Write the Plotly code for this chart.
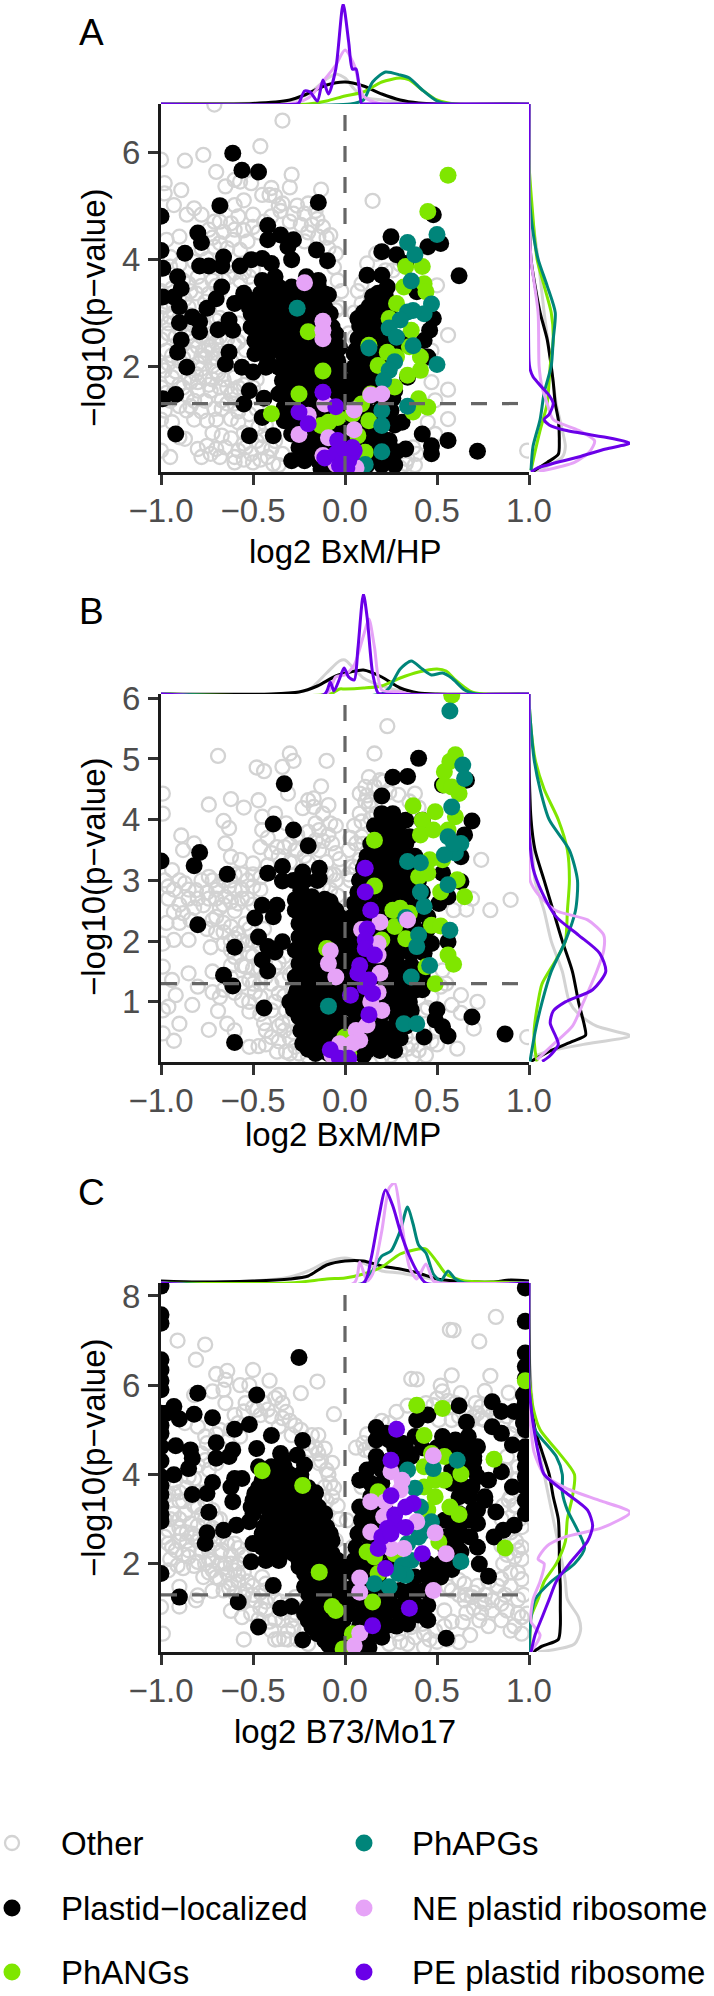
"""Volcano plots with marginal densities, three panels and a shared legend."""

import plotly.graph_objects as go

W, H = 714, 1996
FONT = "Liberation Sans"
GREY, BLACK, GREEN, TEAL, PINK, PURPLE = "#D3D3D3", "#000000", "#7FE600", "#00857A", "#E6A3F7", "#6A00E8"

NAMES = ["Other", "Plastid−localized", "PhANGs", "PhAPGs", "NE plastid ribosome", "PE plastid ribosome"]
X_TICKS = [-1.0, -0.5, 0.0, 0.5, 1.0]
A_Y_TICKS = [2, 4, 6]
B_Y_TICKS = [1, 2, 3, 4, 5, 6]
C_Y_TICKS = [2, 4, 6, 8]
P_CUTOFF = 1.3

# ── Panel A points (log2 ratio, -log10 p) ──
A_OTHER = [(-.71,6.89),(-.34,6.59),(-.46,6.11),(-.77,5.95),(-.87,5.84),(-1,5.86),(-.7,5.63),(-.29,5.58),(-.6,5.48),(-.51,5.42),
 (-.65,5.36),(-.57,5.45),(-.89,5.29),(-.13,5.3),(-.98,5.42),(-.4,5.33),(-.3,5.34),(-.38,5.18),(-.34,5.04),(-.41,5.2),
 (-.2,5.04),(-.98,5.23),(-.93,5.01),(-.82,4.95),(-.6,5.01),(-.86,4.83),(-.78,4.83),(-.71,4.7),(-.5,4.83),(-.62,4.67),
 (-.55,4.54),(-.66,4.51),(-.9,4.42),(-.24,4.64),(-.18,4.64),(-.145,4.42),(-.08,4.45),(-.61,4.36),(-.53,4.33),(-.22,4.33),
 (-.71,4.23),(-.97,4.36),(-.57,4.17),(-.95,4.04),(-.85,3.54),(-.8,3.67),(-.72,3.6),(-.97,3.6),(-.81,3.36),(-.95,2.92),
 (-.96,2.61),(-.97,2.29),(-.85,2.61),(-.98,3.11),(-.8,2.36),(-.72,2.61),(-.76,2.17),(-.68,2.29),(-.82,2.48),(-.74,2.36),
 (-.6,1.79),(-.69,1.86),(-.98,1.92),(-.94,1.79),(-.85,1.79),(-.76,1.79),(-.64,1.6),(-.8,1.54),(-.73,1.54),(-.67,1.36),
 (-.62,1.48),(-.86,1.17),(-.98,1.17),(-.75,.98),(-.67,1.2),(-.62,1.01),(-.87,.64),(-.9,.67),(-.67,.7),(-.75,.51),
 (-.73,.36),(-.65,.48),(-.58,.42),(-1,.42),(-.51,.36),(-.45,.48),(-.39,.17),(-.54,.48),(-.47,.86),(-.34,.36),
 (-.05,3.04),(-.03,3.1),(-.57,3.6),(-.52,3.67),(-.63,3.67),(-.64,3.86),(-.95,3.86),(-.9,3.3),(-.76,3.2),(-.68,3.4),
 (-.9,2.9),(-.78,2.9),(-.68,2.9),(-.9,2.1),(-.8,2.05),(-.72,2.0),(-.66,2.1),(-.9,2.3),(-.6,2.4),(-.7,2.45),
 (-.93,1.5),(-.86,1.45),(-.6,1.3),(-.52,1.1),(-.43,.9),(-.38,.6),(.15,5.09),(.12,3.92),(.17,4.1),(.09,3.54),(.5,3.51),
 (.09,3.17),(.56,2.58),(.47,1.7),(.56,1.56),(.49,1.36),(.56,1.01),(.45,.95),(.49,.73),(.99,.42),(.39,.36),(.34,.26),
 (.37,.48),(.33,.17),(.02,2.61),(.01,2.04),(.47,2.29),(.05,2.54),(.24,.14),(.16,.14),(.22,3.79),(.26,3.79),
 (-1,3.4),(-1,2.9),(-1,2.5),(-1,2.0),(-1,1.6),(-1,1.0),(-.94,3.45),(-.88,3.6),(-.9,3.9),(-.82,3.95),(-.75,4.0),(-.68,4.3),
 (-.74,4.55),(-.68,4.7),(-.58,4.8),(-.55,5.1),(-.45,5.2),(-.47,4.5),(-.4,4.8),(-.35,4.9),(-.3,4.7),(-.26,5.0),(-.22,4.85),
 (-.15,4.75),(-.12,4.6),(-.09,4.2),(-.05,4.1),(-.04,3.6),(-.02,3.4),(-.93,3.0),(-.85,3.1),(-.82,2.75),(-.76,2.75),(-.92,2.55),
 (-.88,2.4),(-.78,2.2),(-.72,2.3),(-.7,2.15),(-.64,2.5),(-.94,2.2),(-.85,2.0),(-.92,1.9),(-.81,1.85),(-.72,1.75),(-.66,1.75),
 (-.58,1.6),(-.55,1.65),(-.9,1.65),(-.97,1.5),(-.82,1.35),(-.76,1.35),(-.71,1.2),(-.9,1.25),(-.94,.95),(-.82,1.0),(-.7,1.0),
 (-.58,.95),(-.55,.75),(-.8,.45),(-.78,.3),(-.68,.3),(-.6,.3),(-.55,.25),(-.46,.25),(-.42,.3),(-.36,.15),(-.48,.6),(-.95,.3),
 (.1,.1),(.3,.1),(.38,.15),(.07,3.4),(.05,3.0),(.03,2.2),(.3,3.9),(.14,3.3),
 (-.97,3.2),(-.93,3.15),(-.87,3.25),(-.84,3.4),(-.78,3.5),(-.74,3.35),(-.7,3.5),(-.66,3.6),(-.6,3.75),(-.55,3.75),(-.5,3.8),
 (-.84,2.95),(-.74,3.05),(-.7,2.85),(-.66,2.75),(-.58,2.8),(-.55,2.55),(-.96,2.8),(-.9,2.7),(-.86,2.8),(-.78,2.55),(-.74,2.5),
 (-.68,2.55),(-.58,2.45),(-.54,2.3),(-.96,2.05),(-.88,2.15),(-.84,2.25),(-.76,2.3),(-.72,2.15),(-.62,2.1),(-.7,1.9),(-.78,1.95),
 (-.84,1.7),(-.8,1.7),(-.74,1.65),(-.68,1.6),(-.6,1.55),(-.5,1.6),(-.48,1.75),(-.88,1.6),(-.95,1.35),(-.84,1.25),(-.78,1.15),
 (-.64,1.3),(-.58,1.15),(-.48,1.2),(-.72,.75),(-.62,.65),(-.55,.55),(-.7,.45),(-.6,.2),(-.5,.2),(-.44,.7),(-.4,.45),(-.78,4.2),
 (-.72,4.4),(-.64,4.2),(-.6,4.55),(-.5,4.6),(-.44,4.7),(-.36,5.0),(-.28,4.85),(-.2,4.5),(-.16,4.9),(-.1,4.4),(-.06,3.85)]
A_PLASTID = [(-.61,5.98),(-.56,5.66),(-.47,5.63),(-.68,5.0),(-.145,5.06),(-1,4.8),(-.42,4.63),(-.8,4.49),(-.78,4.31),(-.42,4.36),
 (-.35,4.45),(-.28,4.36),(-.31,4.23),(-1,4.16),(-.87,4.11),(-.155,4.17),(-.095,3.97),(-.66,4.04),(-.79,3.87),(-.74,3.87),
 (-.67,3.87),(-.57,3.87),(-.51,3.99),(-.45,4.01),(-.4,3.92),(-.29,3.99),(-.99,3.83),(-.91,3.67),(-.45,3.6),(-.38,3.67),
 (-.21,3.67),(-.145,3.6),(-.89,3.45),(-.67,3.48),(-.99,3.29),(-.93,3.29),(-.7,3.26),(-.9,3.11),(-.55,3.36),(-.6,3.17),
 (-.75,3.08),(-.09,3.33),(-.83,2.92),(-.9,2.81),(-.79,2.83),(-.79,2.64),(-.69,2.68),(-.61,2.67),(-.63,2.86),(-.89,2.49),
 (-.91,2.26),(-.86,1.98),(-.63,2.26),(-.65,2.04),(-.56,1.98),(-.5,1.89),(-.52,1.54),(-.55,1.29),(-.44,1.4),(-.92,1.47),
 (-.99,1.39),(-.92,.73),(-.45,1.04),(-.52,.7),(-.39,.7),(-.29,.23),
 (-.43,3.48),(-.36,3.48),(-.29,3.48),(-.22,3.48),(-.145,3.48),
 (-.56,3.23),(-.49,3.23),(-.42,3.23),(-.34,3.23),(-.27,3.23),(-.2,3.23),(-.13,3.23),
 (-.51,2.98),(-.43,2.98),(-.36,2.98),(-.29,2.98),(-.22,2.98),(-.145,2.98),(-.08,2.98),
 (-.51,2.73),(-.43,2.73),(-.36,2.73),(-.29,2.73),(-.22,2.73),(-.145,2.73),(-.07,2.73),
 (-.49,2.48),(-.42,2.48),(-.34,2.48),(-.27,2.48),(-.2,2.48),(-.13,2.48),(-.06,2.48),
 (-.49,2.23),(-.42,2.23),(-.34,2.23),(-.27,2.23),(-.2,2.23),(-.13,2.23),(-.05,2.23),
 (-.43,1.98),(-.36,1.98),(-.29,1.98),(-.22,1.98),(-.145,1.98),(-.07,1.98),(-.03,1.98),
 (-.34,1.73),(-.27,1.73),(-.2,1.73),(-.13,1.73),(-.05,1.73),
 (-.36,1.48),(-.29,1.48),(-.22,1.48),(-.145,1.48),(-.07,1.48),
 (-.33,1.23),(-.25,1.23),(-.18,1.23),(-.11,1.23),(-.04,1.23),
 (-.33,.98),(-.27,.98),(-.2,.98),(-.13,.98),(-.05,.98),
 (-.29,.73),(-.2,.73),(-.13,.73),(-.05,.73),(-.25,.48),(-.18,.48),(-.11,.48),(-.04,.48),
 (-.22,.23),(-.145,.23),(-.07,.23),(-.02,.23),(-.13,.08),(-.05,.08),
 (-.46,3.35),(-.39,3.35),(-.32,3.35),(-.25,3.35),(-.18,3.35),(-.11,3.35),
 (-.52,3.1),(-.46,3.1),(-.39,3.1),(-.32,3.1),(-.25,3.1),(-.18,3.1),(-.11,3.1),
 (-.47,2.85),(-.39,2.85),(-.32,2.85),(-.25,2.85),(-.18,2.85),(-.11,2.85),
 (-.47,2.6),(-.39,2.6),(-.32,2.6),(-.25,2.6),(-.18,2.6),(-.11,2.6),(-.05,2.6),
 (-.46,2.35),(-.38,2.35),(-.3,2.35),(-.23,2.35),(-.16,2.35),(-.09,2.35),(-.03,2.35),
 (-.42,2.1),(-.32,2.1),(-.25,2.1),(-.18,2.1),(-.11,2.1),(-.04,2.1),
 (-.32,1.85),(-.25,1.85),(-.18,1.85),(-.11,1.85),(-.03,1.85),
 (-.32,1.6),(-.25,1.6),(-.18,1.6),(-.11,1.6),(-.03,1.6),
 (-.32,1.35),(-.25,1.35),(-.18,1.35),(-.11,1.35),(-.03,1.35),
 (-.3,1.1),(-.23,1.1),(-.16,1.1),(-.09,1.1),(-.02,1.1),
 (-.25,.85),(-.18,.85),(-.11,.85),(-.03,.85),(-.22,.6),(-.15,.6),(-.07,.6),(-.02,.6),(-.2,.35),(-.12,.35),(-.05,.35),
 (.25,4.42),(.2,4.14),(.28,4.08),(.33,3.92),(.45,4.23),(.52,4.29),(.48,4.83),(.62,3.69),(.12,3.7),(.2,3.7),
 (.23,3.48),(.18,3.36),(.13,3.11),(.07,2.89),(.16,3.11),(.15,2.86),(.22,3.23),(.07,2.51),(.14,2.61),(.2,2.67),
 (.05,2.23),(.13,2.17),(.18,2.42),(.05,1.98),(.11,1.92),(.18,2.17),(.04,1.73),(.1,1.67),(.18,1.73),(.24,1.98),
 (.02,1.48),(.09,1.36),(.24,1.04),(.31,.95),(.18,.79),(.11,.73),(.24,.61),(.33,.45),(.16,.45),(.25,.26),
 (.13,.23),(.42,.73),(.47,.51),(.47,.36),(.56,.61),(.72,.41),(.46,2.67),(.48,2.89),(.43,2.48),(.45,2.17),
 (.39,3.39),(.34,2.48),(.27,1.54),(.34,1.79),(.25,1.17),(.05,.98),(.11,.36),(.05,.5),
 (.15,3.3),(.22,3.3),(.1,3.0),(.17,3.0),(.24,3.0),(.08,2.75),(.15,2.75),(.22,2.75),(.1,2.5),(.17,2.5),(.24,2.5),
 (.06,2.3),(.12,2.3),(.2,2.3),(.27,2.3),(.08,2.05),(.15,2.05),(.22,2.05),(.07,1.85),(.14,1.85),(.21,1.85),
 (.06,1.6),(.13,1.6),(.2,1.6),(.05,1.4),(.12,1.4),(.19,1.4),(.26,1.4),(.05,1.15),(.12,1.15),(.18,1.15),
 (.06,.9),(.13,.9),(.2,.9),(.27,.9),(.06,.65),(.13,.65),(.2,.65),(.07,.4),(.2,.4),(.28,.4),(.05,.15),(.12,.15),(.2,.15),(.27,.15)]
A_PHANG = [(.56,5.57),(.45,4.89),(.33,3.86),(.42,3.86),(.32,3.48),(.43,3.54),(.44,3.39),(.28,3.17),(.24,2.89),(.36,2.67),
 (.13,2.39),(.35,2.36),(.23,2.26),(.28,2.17),(.18,2.01),(.41,2.17),(.41,1.92),(.34,1.83),(.27,1.61),(.14,1.48),
 (.4,1.39),(.45,1.23),(.37,1.14),(.09,1.29),(.13,.98),(.07,.7),(.11,.39),(-.4,1.11),(-.25,1.48),(-.12,1.91),
 (-.2,2.64),(-.09,.95),(-.04,1.04),(-.13,.89),(.04,1.1)]
A_PHAPG = [(.5,4.46),(.34,4.31),(.38,4.08),(.36,3.59),(.47,3.16),(.43,2.98),(.37,3.04),(.34,3.01),(.3,2.86),(.24,2.71),
 (.28,2.54),(.37,2.38),(.13,2.34),(.5,2.03),(.27,2.08),(.24,1.92),(.21,1.73),(.34,1.25),(.2,1.17),(.2,.89),
 (.2,.4),(.11,.16),(-.26,3.08)]
A_NE = [(.14,1.46),(.2,1.48),(.05,1.18),(.05,.81),(.06,.1),(-.22,3.56),(-.12,2.84),(-.12,2.67),(-.12,2.51),(-.11,1.29),
 (-.25,.72),(-.2,1.08),(-.09,.66),(-.12,.33),(-.05,.17)]
A_PE = [(-.12,1.51),(-.25,1.14),(-.2,.92),(-.05,1.24),(-.11,.28),(-.04,.61),(-.05,.36),(-.03,.14),(.05,.42),(.04,.36),
 (.02,.23),(0,.42),(.04,.48),(.01,.1)]

# ── Panel B points ──
B_OTHER = [(-.69,5.05),(-.3,5.09),(-.28,4.97),(-.1,4.97),(-.48,4.86),(-.44,4.8),(-.34,4.87),(-.13,4.55),(-.99,4.43),(-.31,4.43),
 (-.62,4.34),(-.74,4.25),(-.55,4.2),(-.47,4.32),(-.99,4.1),(-.66,3.98),(-.63,3.86),(-.89,3.74),(-.45,3.83),(-.2,4.32),
 (-.17,4.35),(-.23,4.19),(-.17,4.21),(-.09,4.24),(-.38,4.1),(-.45,4.05),(-.32,3.94),(-.16,3.94),(-.08,3.94),(-.14,3.83),
 (-.82,3.61),(-.88,3.5),(-.65,3.61),(-.37,3.55),(-.05,3.45),(-.57,3.34),(-.62,3.39),(-.16,3.66),(-.07,3.61),(-.94,3.17),
 (-.74,3.06),(-.96,2.9),(-.87,2.95),(-.81,2.84),(-.85,2.7),(-.69,2.9),(-.62,3.0),(-.5,3.28),(-.53,3.0),(-.93,2.48),
 (-.88,2.46),(-.77,2.59),(-.65,2.73),(-.58,2.62),(-.72,2.35),(-.62,2.24),(-.54,2.29),(-.93,2.02),(-.85,2.02),(-.99,1.96),
 (-.73,1.9),(-.58,2.13),(-.6,1.74),(-.52,1.8),(-.54,1.58),(-.99,1.58),(-.94,1.36),(-.85,1.47),(-.8,1.25),(-.72,1.16),
 (-.68,1.08),(-.56,1.03),(-.49,1.16),(-.52,1.36),(-.92,1.11),(-.83,.95),(-.99,.86),(-.96,.92),(-.69,.85),(-.52,.84),
 (-.46,1.08),(-.36,1.14),(-.4,.86),(-.9,.64),(-.74,.54),(-.64,.64),(-.6,.53),(-.99,.48),(-.93,.36),(-.43,.53),
 (-.52,.26),(-.47,.27),(-.37,.18),(-.32,.18),(-.4,.42),(-.33,.53),(-.32,.86),(-.27,.26),(-.43,1.41),(-.38,1.58),
 (-.34,1.36),(-.27,3.5),(-.33,3.55),(-.6,2.5),(-.56,2.85),(-.5,2.6),(-.68,2.55),(-.7,2.7),(-.63,2.9),(-.46,1.9),
 (-.5,2.0),(-.44,2.2),(-.52,2.2),(-.3,3.3),(-.22,3.4),(-.1,3.3),(-.06,3.1),(.23,5.54),(.16,5.09),(.11,4.54),(.08,4.43),
 (.21,4.63),(.38,4.43),(.29,4.41),(.13,4.24),(.09,3.97),(.14,4.02),(.06,3.61),(.09,3.72),(.04,3.23),(.08,3.34),
 (.74,3.34),(.69,2.7),(.9,2.68),(.79,2.51),(.66,2.52),(.59,2.51),(.63,1.11),(.72,1.0),(.63,.82),(.7,.56),
 (.61,.23),(.44,.12),(.99,.42),(.34,.23),(.25,.12),(.29,.31),(.47,1.08),(.43,.86),(.33,.42),(.53,1.52),
 (-.98,3.0),(-.96,2.7),(-.97,2.3),(-.9,2.6),(-.82,2.55),(-.75,2.8),(-.72,3.0),(-.66,3.0),(-.6,3.1),(-.56,2.7),(-.5,2.9),
 (-.46,3.05),(-.7,2.15),(-.75,2.2),(-.66,2.3),(-.6,2.05),(-.56,2.0),(-.62,1.85),(-.66,1.95),(-.72,1.5),(-.62,1.4),(-.56,1.3),
 (-.5,1.55),(-.46,1.55),(-.4,1.3),(-.36,1.65),(-.33,1.1),(-.36,.6),(-.3,.7),(-.3,.4),(-.43,.3),(-.28,1.5),(-.46,3.55),(-.42,3.7),
 (-.36,3.4),(-.3,3.6),(-.26,3.75),(-.2,3.8),(-.12,3.65),(-.09,3.75),(-.03,3.35),(-.05,3.0),(-.04,2.75),(-.08,3.1),(-.12,2.9),
 (.05,3.9),(.03,3.7),(.1,3.6),(.02,3.1),(.03,2.6),(.12,4.4),(.16,4.55),(.19,4.65),(.13,4.7),(.11,4.3),(.24,4.45),(.35,4.3),
 (.4,4.2),(.45,.9),(.5,.3),(.4,.2),(.3,.2),(.2,.1),(.15,.2),(.37,.1),(-.2,.1),(-.25,.15),(-.3,.15),(.58,.95),(.52,1.25),(.55,1.3),
 (-.93,2.85),(-.9,3.0),(-.85,2.85),(-.8,2.7),(-.78,3.0),(-.74,2.7),(-.7,2.85),(-.66,2.6),(-.62,2.65),(-.6,2.85),(-.56,3.1),(-.5,3.1),
 (-.46,2.85),(-.53,2.7),(-.9,2.3),(-.84,2.35),(-.7,2.4),(-.66,2.15),(-.62,2.0),(-.58,1.9),(-.54,1.95),(-.5,1.75),(-.46,1.3),(-.5,1.3),
 (-.56,1.6),(-.62,1.6),(-.66,1.2),(-.6,1.15),(-.52,1.0),(-.46,.8),(-.38,1.0),(-.34,.65),(-.28,.85),(-.28,1.2),(-.3,1.45),(-.33,1.75),
 (-.44,.65),(-.36,.35),(-.28,.5),(-.42,3.25),(-.4,3.45),(-.28,3.3),(-.26,3.5),(-.2,3.3),(-.14,3.5),(-.1,3.1),(-.08,2.85),(-.18,3.55),
 (-.12,4.1),(-.05,3.9),(.02,3.5),(.08,4.1),(.14,4.3),(.17,4.1),(.03,3.0),(.06,3.2),(.5,.55),(.47,.35),(.36,.3),(.27,.25)]
B_PLASTID = [(-.33,4.59),(-.39,3.93),(-.28,3.83),(-.2,3.57),(-.79,3.46),(-.82,3.24),(-1,3.32),(-.64,3.1),(-.8,2.27),(-.34,3.23),
 (-.42,3.12),(-.34,2.99),(-.23,3.14),(-.14,3.2),(-.14,3.03),(-.24,2.84),(-.11,2.69),(-.45,2.59),(-.37,2.59),(-.27,2.68),
 (-.18,2.73),(-.49,2.38),(-.39,2.4),(-.47,2.07),(-.42,1.91),(-.34,1.99),(-.38,1.82),(-.45,1.69),(-.42,1.51),(-.6,1.9),
 (-.66,1.44),(-.61,1.26),(-.44,.9),(-.6,.33),
 (-.27,2.51),(-.2,2.51),(-.13,2.51),(-.05,2.51),(-.25,2.29),(-.18,2.29),(-.11,2.29),(-.05,2.29),
 (-.25,2.07),(-.18,2.07),(-.11,2.07),(-.04,2.07),(-.27,1.85),(-.2,1.85),(-.13,1.85),(-.05,1.85),
 (-.25,1.63),(-.18,1.63),(-.11,1.63),(-.04,1.63),(-.27,1.41),(-.2,1.41),(-.13,1.41),(-.05,1.41),
 (-.26,1.19),(-.19,1.19),(-.12,1.19),(-.05,1.19),(-.3,1.0),(-.23,1.0),(-.155,1.0),(-.08,1.0),(-.02,1.0),
 (-.25,.75),(-.18,.75),(-.11,.75),(-.04,.75),(-.24,.53),(-.16,.53),(-.09,.53),(-.03,.53),
 (-.23,.31),(-.155,.31),(-.08,.31),(-.02,.31),(-.16,.15),(-.09,.15),(-.04,.15),
 (-.23,2.4),(-.16,2.4),(-.09,2.4),(-.03,2.4),(-.22,2.18),(-.15,2.18),(-.08,2.18),(-.02,2.18),
 (-.24,1.96),(-.16,1.96),(-.09,1.96),(-.03,1.96),(-.22,1.74),(-.15,1.74),(-.08,1.74),(-.02,1.74),
 (-.24,1.52),(-.16,1.52),(-.09,1.52),(-.03,1.52),(-.22,1.3),(-.15,1.3),(-.08,1.3),(-.02,1.3),
 (-.27,1.1),(-.21,1.1),(-.14,1.1),(-.07,1.1),(-.28,.88),(-.21,.88),(-.14,.88),(-.07,.88),(-.01,.88),
 (-.22,.64),(-.15,.64),(-.07,.64),(-.01,.64),(-.2,.42),(-.12,.42),(-.05,.42),(-.2,.22),(-.12,.22),(-.06,.22),
 (-.22,3.0),(-.15,3.0),(-.28,3.0),(-.2,2.65),(-.15,2.65),(-.08,2.65),
 (.4,5.01),(.26,4.7),(.34,4.71),(.2,4.39),(.23,4.02),(.33,3.99),(.42,3.99),(.69,3.98),(.65,3.75),(.66,4.65),
 (.53,4.57),(.63,3.39),(.18,3.88),(.21,3.66),(.27,3.77),(.15,3.39),(.11,3.28),(.22,3.45),(.29,3.5),(.35,3.72),
 (.08,3.0),(.15,3.12),(.24,3.23),(.31,3.28),(.05,2.62),(.13,2.73),(.2,2.84),(.27,2.9),(.34,2.79),(.05,2.4),
 (.18,2.57),(.11,2.4),(.25,2.62),(.51,2.62),(.56,2.73),(.63,2.98),(.53,3.12),(.03,2.13),(.24,2.29),(.16,2.13),
 (.47,1.96),(.56,1.99),(.02,1.8),(.24,1.96),(.31,2.07),(.04,1.47),(.27,1.74),(.34,1.85),(.02,1.16),(.25,1.47),
 (.35,1.52),(.42,1.47),(.24,1.19),(.31,1.19),(.38,1.19),(.02,.92),(.07,.86),(.24,.92),(.31,.81),(.36,.86),
 (.24,.5),(.2,.34),(.14,.31),(.1,.12),(.43,.42),(.5,.87),(.49,.7),(.53,.59),(.56,.44),(.69,.75),
 (.87,.47),(.05,.42),(.12,1.0),(.18,1.3),(.12,1.6),(.2,2.0),(.2,2.4),(.28,2.4),(.3,1.5),
 (.2,4.1),(.26,4.1),(.16,3.9),(.22,3.9),(.29,3.9),(.14,3.6),(.2,3.6),(.27,3.6),(.33,3.6),(.12,3.4),(.19,3.4),(.26,3.4),(.32,3.4),(.38,3.4),
 (.1,3.2),(.17,3.2),(.24,3.2),(.31,3.2),(.38,3.2),(.08,3.0),(.12,3.0),(.19,3.0),(.26,3.0),(.33,3.0),(.4,3.0),
 (.07,2.8),(.14,2.8),(.21,2.8),(.28,2.8),(.35,2.8),(.42,2.8),(.07,2.6),(.14,2.6),(.21,2.6),(.28,2.6),(.35,2.6),(.42,2.6),
 (.04,2.4),(.1,2.4),(.17,2.4),(.24,2.4),(.31,2.4),(.38,2.4),(.45,2.4),(.04,2.2),(.1,2.2),(.17,2.2),(.24,2.2),(.31,2.2),(.38,2.2),(.45,2.2),
 (.02,2.0),(.08,2.0),(.15,2.0),(.22,2.0),(.29,2.0),(.36,2.0),(.43,2.0),(.02,1.8),(.08,1.8),(.15,1.8),(.22,1.8),(.29,1.8),(.36,1.8),(.43,1.8),
 (.02,1.6),(.08,1.6),(.15,1.6),(.22,1.6),(.29,1.6),(.36,1.6),(.01,1.4),(.08,1.4),(.15,1.4),(.22,1.4),(.29,1.4),(.36,1.4),(.42,1.4),
 (.08,1.2),(.15,1.2),(.22,1.2),(.29,1.2),(.36,1.2),(.42,1.2),(.07,1.0),(.14,1.0),(.21,1.0),(.28,1.0),(.35,1.0),
 (.06,.8),(.13,.8),(.2,.8),(.27,.8),(.34,.8),(.06,.6),(.13,.6),(.2,.6),(.27,.6),(.33,.6),(.09,.4),(.16,.4),(.23,.4),(.3,.4),(.05,.2),(.12,.2),(.19,.2),(.27,.2)]
B_PHANG = [(.58,6.05),(.6,5.07),(.54,4.79),(.57,4.96),(.54,4.57),(.62,4.43),(.58,4.54),(.37,4.23),(.49,4.13),(.42,3.99),
 (.6,4.05),(.41,3.75),(.48,3.83),(.56,3.83),(.16,3.66),(.46,3.34),(.53,3.34),(.4,3.06),(.45,3.12),(.61,3.01),
 (.16,2.91),(.52,2.81),(.65,2.73),(.26,2.51),(.3,2.54),(.35,2.46),(.27,2.24),(.33,2.04),(.47,2.26),(.52,2.25),
 (.2,2.02),(.56,1.77),(.59,1.62),(.44,1.58),(.49,1.3),(-.1,1.88),(.02,.15),(0,.42)]
B_PHAPG = [(.57,5.79),(.64,4.9),(.65,4.68),(.58,4.21),(.56,3.72),(.63,3.61),(.6,3.45),(.54,3.42),(.59,3.61),(.34,3.31),
 (.41,3.29),(.56,2.93),(.41,2.81),(.43,2.57),(.33,2.39),(.4,2.1),(.39,1.91),(.57,2.18),(.46,1.6),(.36,1.41),
 (.32,.64),(.39,.64),(-.09,.93)]
B_NE = [(.34,2.35),(.19,2.31),(.09,2.19),(.18,1.96),(.18,1.77),(.19,1.47),(.18,1.16),(.14,1.0),(.2,.86),(.12,.62),
 (.06,.53),(.08,.37),(-.08,1.84),(-.09,1.63),(-.05,1.41),(-.03,.31),(-.07,.12),(.04,.31)]
B_PE = [(.11,3.2),(.11,2.81),(.14,2.51),(.12,2.2),(.11,2.02),(.11,1.88),(.16,1.77),(.08,1.6),(.07,1.47),(.13,1.36),
 (.11,1.25),(.15,1.14),(.03,1.11),(.13,.79),(-.08,.21),(-.03,.07),(.02,.07)]

# ── Panel C points ──
C_OTHER = [(-.91,7.0),(-.76,6.91),(-.81,6.57),(-.5,6.34),(-.64,6.32),(-.7,6.25),(-.15,6.08),(-.41,6.1),(-.57,6.0),(-.65,6.12),
 (-.52,6.0),(-.24,5.82),(-.66,5.9),(-.72,5.86),(-.36,5.78),(-.34,5.6),(-.38,5.71),(-.82,5.78),(-.65,5.6),(-.06,5.35),
 (-.55,5.41),(-.6,5.33),(-.46,5.33),(-.34,5.26),(-.36,5.07),(-.8,5.07),(-.76,4.85),(-.87,5.15),(-.29,4.88),(-.18,4.88),
 (-.145,4.88),(-.19,4.55),(-.11,4.58),(-.145,4.47),(-.07,4.26),(-.11,3.72),(-.07,3.5),(-.12,3.5),(-.93,3.57),(-.78,4.47),
 (-.76,4.32),(-.96,3.57),(-.87,3.12),(-.93,3.12),(-.8,3.27),(-.96,2.75),(-.89,2.67),(-.83,2.67),(-.92,2.3),(-.94,2.37),
 (-.85,2.3),(-.8,2.04),(-.91,1.96),(-.85,2.15),(-.96,1.85),(-.72,2.07),(-.65,2.0),(-.67,2.3),(-.6,2.45),(-.71,2.45),
 (-.58,2.0),(-.64,1.78),(-.72,1.85),(-.62,1.55),(-.9,1.48),(-.72,1.39),(-.8,1.29),(-.81,1.18),(-.9,1.04),(-1,1.03),
 (-.99,.43),(-.62,.94),(-.56,.8),(-.55,.3),(-.51,.88),(-.49,1.18),(-.43,.95),(-.54,1.4),(-.36,.31),(-.33,.31),
 (-.4,.5),(-.31,.5),(-.34,.73),(-.27,1.25),(-.29,.73),(-.43,1.55),(-.18,.65),(-.05,2.52),(-.03,2.3),
 (-.9,3.0),(-.84,2.9),(-.76,3.0),(-.72,2.8),(-.8,2.5),(-.74,2.3),(-.68,2.0),(-.88,3.4),(-.95,3.0),(-.76,3.6),(-.82,3.9),
 (-.95,2.1),(-.98,2.6),(-.88,2.2),(-.7,1.7),(-.58,1.6),(-.5,1.5),(-.46,1.0),(-.41,.7),(-.66,1.4),
 (-.98,3.0),(-.98,3.5),(-.9,3.4),(-.86,3.7),(-.82,3.3),(-.76,3.4),(-.72,3.2),(-.68,3.0),(-.68,2.6),(-.73,2.6),(-.86,2.5),
 (-.96,2.45),(-.9,2.5),(-.8,2.85),(-.76,2.6),(-.62,2.2),(-.56,2.2),(-.55,1.8),(-.62,2.0),(-.68,1.65),(-.77,1.7),(-.6,1.35),
 (-.56,1.15),(-.46,1.35),(-.43,1.15),(-.38,1.2),(-.4,1.45),(-.33,.9),(-.28,.55),(-.26,.3),(-.2,.2),(-.22,.5),(-.38,.3),
 (-.7,4.9),(-.68,4.6),(-.62,5.0),(-.57,4.85),(-.5,5.5),(-.44,5.6),(-.4,5.3),(-.27,5.1),(-.24,5.0),(-.16,4.6),(-.13,4.3),
 (-.09,4.0),(-.06,3.7),(-.04,3.3),(-.03,3.0),(-.1,3.4),
 (-.99,3.8),(-.93,3.8),(-.9,3.6),(-.84,3.5),(-.8,3.6),(-.78,3.1),(-.7,3.0),(-.9,2.8),(-.86,2.7),(-.82,2.6),(-.78,2.3),(-.74,2.1),
 (-.68,2.25),(-.64,2.45),(-.58,2.35),(-.54,2.15),(-.88,1.9),(-.82,1.95),(-.76,2.0),(-.74,1.8),(-.6,1.85),(-.66,1.9),(-.58,1.75),
 (-.53,1.6),(-.45,1.7),(-.63,1.45),(-.55,1.25),(-.5,1.3),(-.47,.75),(-.38,.75),(-.35,1.15),(-.31,1.1),(-.27,.9),(-.31,.3),(-.85,3.95),
 (-.8,4.2),(-.74,4.1),(-.7,4.25),(-.75,4.7),(-.68,5.0),(-.58,5.15),(-.54,5.6),(-.48,5.45),(-.42,5.45),(-.32,5.4),(-.3,5.2),(-.2,4.7),
 (-.14,4.25),(-.1,4.1),(-.08,3.8),
 (.82,7.53),(.57,7.24),(.59,7.23),(.73,6.98),(.36,6.14),(.39,6.13),(.58,6.22),(.79,6.21),(.52,5.99),(.53,5.86),
 (.63,5.82),(.76,5.87),(.89,5.83),(.34,5.54),(.71,5.6),(.74,5.52),(.72,5.37),(.24,5.15),(.11,4.55),(.14,4.51),
 (.82,5.3),(.51,5.22),(.76,5.22),(.58,5.22),(.95,4.77),(.94,4.17),(.89,3.42),(.96,2.82),(.96,2.37),(.92,2.15),
 (.85,1.66),(.62,1.63),(.56,1.48),(.65,1.55),(.69,1.25),(.8,1.18),(.85,1.1),(.54,.95),(.58,1.4),(.64,.69),
 (.73,.73),(.85,.73),(.96,.8),(.96,.43),(.62,.24),(.43,.43),(.49,.5),(.36,.58),(.29,.43),(.24,.2),
 (.43,.13),(.65,1.18),(.76,1.1),(.01,2.97),(.04,2.37),(.09,3.72),(.94,.88),(.99,.88),
 (.15,4.7),(.12,4.9),(.6,5.6),(.56,5.5),(.5,5.7),(.44,5.6),(.7,5.3),(.66,5.4),(.78,5.45),(.88,5.3),(.93,5.1),(.94,4.7),
 (.88,4.4),(.9,3.5),(.86,3.3),(.93,3.3),(.9,2.7),(.85,2.4),(.93,2.5),(.96,2.1),(.94,1.8),(.9,1.5),(.78,1.6),(.72,1.5),
 (.66,1.3),(.74,1.15),(.8,.95),(.7,1.0),(.58,.7),(.5,.25),(.42,.65),(.3,.25),(.34,.2),(.27,.6),(.54,.6),(.9,.5),(.97,1.3),(.96,1.65),
 (.28,5.4),(.2,5.2),(.1,4.7),(.06,4.6),(.48,5.55),(.56,5.65),(.62,5.3),(.68,5.2),(.74,5.25),(.82,5.5),(.86,5.2),(.9,4.9),(.87,4.1),
 (.94,3.9),(.92,3.3),(.85,3.0),(.95,3.0),(.88,2.2),(.94,2.3),(.86,2.0),(.9,1.8),(.83,1.5),(.87,1.3),(.94,1.2),(.62,1.3),(.7,1.35),
 (.76,1.3),(.66,.9),(.74,.9),(.88,.95),(.78,.6),(.68,.4),(.56,.3),(.46,.3),(.38,.35),(.92,.6)]
C_PLASTID = [(-.25,6.62),(-1,8.22),(-1,7.58),(-1,7.39),(-1,6.57),(-1,6.34),(-1,6.1),(-1,5.9),(-.8,5.82),(-.48,5.78),
 (-.93,5.52),(-.82,5.35),(-.9,5.24),(-.97,5.37),(-.72,5.27),(-.52,5.12),(-.6,5.01),(-1,5.37),(-1,5.1),(-1,4.92),
 (-.4,4.87),(-.23,4.76),(-.7,4.71),(-.92,4.64),(-1,4.62),(-.84,4.55),(-.83,4.36),(-.85,4.13),(-.93,3.99),(-1,4.3),
 (-1,3.95),(-1,3.75),(-1,3.55),(-1,3.3),(-1,3.1),(-1,2.95),(-.61,4.55),(-.48,4.58),(-.35,4.47),(-.26,4.43),
 (-.7,4.36),(-.63,4.4),(-.34,4.32),(-.22,4.21),(-.6,3.91),(-.72,3.82),(-.83,3.55),(-.75,3.57),(-.62,3.72),(-.56,3.91),
 (-.16,3.59),(-.74,3.15),(-.61,3.39),(-.66,2.75),(-.59,2.86),(-.75,2.69),(-.76,2.45),(-.52,2.94),(-.5,2.45),(-.51,2.04),
 (-.39,1.51),(-.43,2.07),(-1,1.78),(-.9,1.25),(-.58,1.14),(-.47,.58),(-.23,.29),(-.35,1.0),(-.29,1.04),
 (-.47,4.17),(-.4,4.17),(-.33,4.17),(-.45,3.87),(-.38,3.87),(-.31,3.87),(-.24,3.87),
 (-.49,3.57),(-.42,3.57),(-.34,3.57),(-.27,3.57),(-.22,3.57),
 (-.51,3.27),(-.43,3.27),(-.36,3.27),(-.29,3.27),(-.22,3.27),(-.145,3.27),
 (-.42,2.97),(-.34,2.97),(-.27,2.97),(-.2,2.97),(-.13,2.97),
 (-.45,2.67),(-.38,2.67),(-.31,2.67),(-.24,2.67),(-.16,2.67),(-.08,2.67),
 (-.45,2.37),(-.38,2.37),(-.31,2.37),(-.24,2.37),(-.16,2.37),(-.09,2.37),
 (-.36,2.07),(-.25,2.07),(-.18,2.07),(-.11,2.07),(-.04,2.07),
 (-.22,1.78),(-.145,1.78),(-.07,1.78),(-.02,1.78),(-.22,1.48),(-.145,1.48),(-.07,1.48),(-.02,1.48),
 (-.18,1.18),(-.11,1.18),(-.04,1.18),(-.22,.88),(-.145,.88),(-.07,.88),(-.02,.88),
 (-.18,.58),(-.11,.58),(-.04,.58),(-.11,.28),(-.04,.28),(-.07,.09),(-.02,.09),
 (-.44,4.0),(-.37,4.0),(-.3,4.0),(-.24,4.0),(-.47,3.7),(-.4,3.7),(-.33,3.7),(-.26,3.7),(-.2,3.7),
 (-.5,3.42),(-.45,3.42),(-.38,3.42),(-.31,3.42),(-.24,3.42),(-.17,3.42),(-.5,3.12),(-.39,3.12),(-.32,3.12),(-.25,3.12),(-.18,3.12),(-.11,3.12),
 (-.44,2.82),(-.38,2.82),(-.31,2.82),(-.24,2.82),(-.17,2.82),(-.1,2.82),(-.42,2.52),(-.35,2.52),(-.28,2.52),(-.21,2.52),(-.14,2.52),(-.07,2.52),
 (-.42,2.22),(-.35,2.22),(-.28,2.22),(-.21,2.22),(-.14,2.22),(-.07,2.22),(-.25,1.93),(-.19,1.93),(-.11,1.93),(-.05,1.93),(0,1.93),
 (-.2,1.63),(-.11,1.63),(-.04,1.63),(-.2,1.33),(-.13,1.33),(-.06,1.33),(-.01,1.33),(-.2,1.03),(-.13,1.03),(-.05,1.03),
 (-.2,.73),(-.13,.73),(-.06,.73),(-.01,.73),(-.15,.43),(-.08,.43),(-.02,.43),(-.09,.18),(-.04,.18),
 (.62,5.54),(.45,5.33),(.39,5.22),(.66,5.17),(.8,5.63),(.85,5.41),(.92,5.41),(.97,5.78),(.98,7.43),(.98,8.18),
 (.98,6.72),(.98,6.42),(.98,5.82),(.17,5.05),(.17,4.77),(.24,4.77),(.31,4.7),(.38,4.85),(.53,4.85),(.6,4.77),
 (.67,4.85),(.72,4.62),(.8,5.07),(.85,4.92),(.91,4.66),(.97,5.15),(.98,4.62),(.98,4.17),(.98,3.72),(.98,3.42),
 (.98,3.12),(.17,4.22),(.08,3.87),(.14,3.8),(.7,4.32),(.72,3.95),(.66,4.17),(.69,3.72),(.78,3.87),(.85,4.06),
 (.91,3.72),(.65,3.72),(.76,3.42),(.72,3.2),(.82,3.16),(.62,3.12),(.67,2.97),(.92,2.86),(.86,2.75),(.81,2.6),
 (.08,3.27),(.09,2.97),(.07,2.67),(.06,2.37),(.05,2.07),(.05,1.78),(.05,1.48),(.03,1.18),(.03,.88),(.09,.58),
 (.18,.58),(.72,2.37),(.73,1.99),(.78,1.72),(.63,2.26),(.58,1.87),(.52,1.85),(.45,1.78),(.34,.65),(.45,.73),
 (.45,1.06),(.55,.33),(.27,1.03),(.2,.88),(.13,.35),(.24,1.25),(.36,1.4),(.07,.13),(.14,.43),(.54,2.97),
 (.62,2.75),(.22,4.92),(.36,4.4),(.54,4.55),(.24,4.3),(.3,4.4),(.58,2.5),(.12,1.4),(.12,1.9),(.1,1.1),
 (.27,4.6),(.33,4.6),(.42,4.6),(.5,4.6),(.6,4.6),(.66,4.6),(.17,4.4),(.7,4.4),(.62,4.4),(.12,4.1),(.2,4.1),(.28,4.1),(.58,4.1),(.64,4.1),(.7,4.1),
 (.2,3.8),(.58,3.8),(.62,3.8),(.14,3.5),(.22,3.5),(.62,3.5),(.68,3.5),(.76,3.5),(.14,3.2),(.22,3.2),(.7,3.2),(.14,2.9),(.22,2.9),(.58,2.9),(.72,2.9),
 (.13,2.6),(.2,2.6),(.55,2.6),(.62,2.6),(.68,2.6),(.12,2.3),(.2,2.3),(.55,2.3),(.62,2.3),(.1,2.0),(.18,2.0),(.25,2.0),(.45,2.0),(.52,2.0),(.6,2.0),
 (.1,1.7),(.18,1.7),(.38,1.7),(.45,1.7),(.52,1.7),(.1,1.4),(.17,1.4),(.3,1.4),(.38,1.4),(.43,1.4),(.1,1.1),(.17,1.1),(.24,1.1),(.32,1.1),(.38,1.1),
 (.08,.85),(.15,.85),(.22,.85),(.3,.85),(.4,.85),(.08,.6),(.14,.6),(.22,.6),(.28,.6),(.06,.35),(.12,.35),(.2,.35),(.03,.12),(.1,.12),(.13,.12),
 (.98,6.15),(.98,5.6),(.98,5.3),(.98,5.0),(.98,4.4),(.98,3.95)]
C_PHANG = [(-.45,4.08),(-.23,3.75),(-.14,1.81),(-.07,1.04),(-.05,.95),(-.01,.09),(.39,5.55),(.53,5.48),(.43,4.87),(.81,4.34),
 (.98,6.1),(.87,2.35),(.63,4.01),(.57,3.27),(.62,3.1),(.47,4.47),(.54,4.4),(.43,4.17),(.49,3.87),(.54,3.87),
 (.43,3.72),(.49,3.5),(.45,3.2),(.18,3.61),(.12,2.26),(.16,2.15),(.51,2.49),(.15,1.14),(.04,.43),(.18,1.78),(.27,2.22)]
C_PHAPG = [(.61,4.32),(.48,4.13),(.34,4.1),(.38,3.69),(.41,3.27),(.47,2.94),(.63,2.05),(.4,2.6),(.34,2.45),(.36,2.07),
 (.31,1.96),(.33,1.74),(.24,1.48),(.16,1.55),(.42,2.71),(.29,1.78)]
C_NE = [(.48,4.42),(.25,4.06),(.31,3.87),(.3,3.65),(.14,3.39),(.22,3.39),(.21,3.05),(.39,2.94),(.14,2.71),(.49,2.69),
 (.32,2.34),(.25,2.34),(.55,2.22),(.08,1.68),(.08,1.36),(.48,1.4),(.08,.44),(.05,.16)]
C_PE = [(.28,5.01),(.25,4.32),(.25,3.52),(.37,3.35),(.33,3.27),(.27,3.09),(.27,2.9),(.33,2.81),(.23,2.79),(.2,2.6),
 (.25,2.67),(.18,2.34),(.42,2.22),(.22,1.89),(.35,1.0),(.15,.61)]

# ── Top densities (log2 ratio, relative height) ──
A_TOP_OTHER = [(-1,0),(-.5,.01),(-.3,.03),(-.2,.1),(-.1,.25),(-.05,.3),(0,.26),(.05,.15),(.1,.07),(.2,.04),(.3,.02),(.5,0),(1,0)]
A_TOP_PLASTID = [(-1,0),(-.5,.005),(-.3,.04),(-.22,.09),(-.1,.19),(0,.22),(.1,.18),(.2,.1),(.3,.04),(.4,.01),(.5,0),(1,0)]
A_TOP_PHANG = [(-1,0),(-.2,0),(-.1,.03),(0,.08),(.1,.12),(.2,.22),(.3,.26),(.35,.24),(.42,.14),(.5,.04),(.6,0),(1,0)]
A_TOP_PHAPG = [(-1,0),(.03,0),(.1,.04),(.15,.22),(.22,.32),(.3,.29),(.35,.26),(.42,.14),(.5,.03),(.58,0),(1,0)]
A_TOP_NE = [(-1,0),(-.3,0),(-.2,.06),(-.1,.27),(-.05,.39),(0,.54),(.05,.39),(.1,.08),(.2,0),(1,0)]
A_TOP_PE = [(-1,0),(-.26,0),(-.25,.01),(-.22,.13),(-.19,.12),(-.15,.03),(-.12,.24),(-.09,.1),(-.05,.35),(-.01,1),(.02,.62),(.04,.35),(.06,.35),(.09,0),(.1,0),(1,0)]
B_TOP_OTHER = [(-1,0),(-.4,0),(-.2,.04),(-.1,.21),(-.03,.33),(0,.34),(.05,.25),(.1,.16),(.2,.08),(.3,.03),(.45,0),(1,0)]
B_TOP_PLASTID = [(-1,0),(-.4,0),(-.25,.02),(-.15,.08),(-.05,.18),(.03,.22),(.1,.24),(.2,.17),(.3,.06),(.4,.01),(.5,0),(1,0)]
B_TOP_PHANG = [(-1,0),(-.08,0),(-.03,.05),(0,.05),(.1,.06),(.2,.08),(.3,.16),(.4,.22),(.5,.25),(.55,.23),(.6,.14),(.68,.03),(.75,0),(1,0)]
B_TOP_PHAPG = [(-1,0),(.2,0),(.24,.06),(.3,.25),(.36,.33),(.42,.25),(.47,.19),(.53,.21),(.58,.16),(.65,.04),(.72,0),(1,0)]
B_TOP_NE = [(-1,0),(-.1,0),(-.05,.17),(0,.19),(.05,.29),(.1,.58),(.13,.75),(.16,.47),(.2,.04),(.3,.02),(.35,0),(1,0)]
B_TOP_PE = [(-1,0),(-.11,0),(-.08,.12),(-.06,.03),(-.03,.15),(-.005,.26),(.02,.17),(.05,.14),(.07,.45),(.1,1),(.12,.77),(.15,.21),(.18,.01),(.2,0),(1,0)]
C_TOP_OTHER = [(-1,.01),(-.5,.02),(-.3,.06),(-.2,.12),(-.1,.21),(0,.25),(.1,.2),(.2,.12),(.3,.1),(.5,.03),(.7,.01),(1,0)]
C_TOP_PLASTID = [(-1,.02),(-.8,.01),(-.5,.02),(-.3,.04),(-.2,.07),(-.1,.18),(0,.22),(.1,.22),(.2,.17),(.3,.14),(.4,.1),(.5,.04),(.6,.02),(.8,.01),(.9,.03),(1,.02)]
C_TOP_PHANG = [(-1,0),(-.3,0),(-.1,.04),(0,.05),(.1,.09),(.2,.16),(.3,.29),(.4,.34),(.44,.34),(.5,.21),(.55,.09),(.65,.02),(.8,.01),(1,0)]
C_TOP_PHAPG = [(-1,0),(.1,0),(.14,.09),(.2,.27),(.25,.32),(.3,.52),(.34,.76),(.37,.59),(.4,.38),(.44,.3),(.48,.09),(.52,.02),(.56,.12),(.6,.04),(.65,0),(1,0)]
C_TOP_NE = [(-1,0),(.05,0),(.08,.21),(.12,.02),(.15,.09),(.2,.52),(.24,.95),(.27,1),(.3,.7),(.35,.16),(.39,.04),(.44,.19),(.48,.02),(.52,0),(1,0)]
C_TOP_PE = [(-1,0),(.1,0),(.14,.23),(.18,.62),(.22,.93),(.26,.77),(.3,.52),(.35,.27),(.4,.09),(.44,0),(1,0)]

# ── Right densities (-log10 p, relative height) ──
A_SIDE_OTHER = [(.02,.06),(.3,.33),(.5,.36),(.8,.33),(1.3,.27),(2,.22),(3,.15),(4,.09),(5,.02),(6,0),(6.9,0)]
A_SIDE_PLASTID = [(.03,.04),(.2,.18),(.35,.29),(.6,.3),(1,.29),(1.3,.26),(1.7,.24),(2,.22),(2.5,.18),(3,.11),(3.5,.06),(4,.02),(5,0),(6.9,0)]
A_SIDE_PHANG = [(.05,.02),(.4,.06),(.8,.11),(1.3,.18),(2,.21),(2.5,.24),(3,.22),(3.5,.15),(4,.08),(5,.03),(5.8,0),(6.9,0)]
A_SIDE_PHAPG = [(.05,.02),(.5,.04),(1,.11),(1.5,.15),(2,.22),(2.5,.24),(3,.26),(3.5,.18),(4,.09),(4.5,.04),(5,.01),(5.5,0),(6.9,0)]
A_SIDE_NE = [(.03,.1),(.2,.45),(.4,.6),(.6,.65),(.8,.49),(1,.24),(1.3,.18),(1.6,.13),(2,.1),(3,.09),(4,.02),(5,0),(6.9,0)]
A_SIDE_PE = [(.02,.02),(.1,.09),(.3,.49),(.45,.76),(.56,1),(.65,.81),(.8,.36),(.9,.2),(1,.15),(1.1,.2),(1.3,.24),(1.45,.2),(1.6,.13),(1.8,.04),(1.95,.01),(2.1,0),(6.9,0)]
B_SIDE_OTHER = [(.1,.04),(.18,.18),(.3,.54),(.44,1),(.6,.67),(.8,.49),(1,.4),(1.5,.33),(2,.22),(2.5,.15),(3,.06),(4,.02),(5,0),(6.07,0)]
B_SIDE_PLASTID = [(.02,.02),(.2,.22),(.35,.43),(.45,.56),(.6,.55),(1,.49),(1.5,.43),(2,.33),(2.5,.24),(3,.15),(3.5,.06),(4,.02),(5,0),(6.07,0)]
B_SIDE_PHANG = [(.02,.08),(.2,.06),(.5,.05),(1,.09),(1.3,.13),(1.7,.27),(2,.36),(2.5,.38),(3,.4),(3.5,.38),(4,.29),(4.5,.15),(5,.06),(5.5,.02),(6,0),(6.07,0)]
B_SIDE_PHAPG = [(.02,.01),(.5,.06),(1,.13),(1.5,.22),(2,.36),(2.5,.46),(3,.48),(3.5,.4),(4,.2),(4.5,.11),(5,.05),(5.5,.02),(6,0),(6.07,0)]
B_SIDE_NE = [(.05,.08),(.3,.24),(.6,.43),(1,.54),(1.5,.67),(1.85,.74),(2.1,.74),(2.35,.58),(2.5,.27),(2.77,.09),(3,.01),(3.2,0),(6.07,0)]
B_SIDE_PE = [(.02,.13),(.1,.2),(.3,.29),(.45,.26),(.65,.21),(.85,.24),(1,.36),(1.2,.63),(1.5,.76),(1.8,.7),(2.1,.49),(2.4,.27),(2.8,.13),(3.2,.04),(3.6,.01),(3.8,0),(6.07,0)]
C_SIDE_OTHER = [(.02,.09),(.2,.45),(.5,.51),(.8,.49),(1.2,.38),(1.6,.36),(2,.33),(3,.24),(4,.15),(5,.06),(6,.02),(7,0),(8.29,0)]
C_SIDE_PLASTID = [(.02,.04),(.15,.13),(.3,.29),(.6,.31),(1,.31),(1.5,.31),(2,.3),(2.5,.3),(3,.29),(3.5,.24),(4,.2),(4.5,.13),(5,.06),(5.5,.03),(6,.01),(8,0),(8.29,0)]
C_SIDE_PHANG = [(.02,.01),(.8,.02),(1.2,.09),(1.6,.15),(2,.27),(2.5,.36),(3,.38),(3.5,.43),(4,.45),(4.5,.29),(5,.11),(5.5,.04),(6,.01),(6.2,0),(8.29,0)]
C_SIDE_PHAPG = [(.02,0),(.8,.02),(1.2,.06),(1.6,.22),(2,.45),(2.35,.55),(2.8,.47),(3.2,.38),(3.6,.33),(4,.33),(4.4,.27),(5,.06),(5.5,.02),(6,0),(8.29,0)]
C_SIDE_NE = [(.03,.02),(.4,.11),(.7,.02),(1.2,.04),(1.6,.11),(2,.15),(2.1,.09),(2.4,.18),(2.6,.36),(2.8,.72),(3.15,1),(3.4,.72),(3.7,.36),(4,.15),(4.5,.05),(5,.02),(5.5,0),(8.29,0)]
C_SIDE_PE = [(.02,.02),(.4,.06),(.8,.13),(1.2,.2),(1.6,.27),(2,.4),(2.5,.58),(2.85,.63),(3.2,.58),(3.6,.36),(4,.15),(4.5,.09),(5,.05),(5.5,.02),(6,0),(8.29,0)]

PANELS = [
    dict(letter="A", xlabel="log2 BxM/HP", top=104, bottom=472, peak=4, ymin=.02, ymax=6.9, yticks=A_Y_TICKS,
         letter_y=32, xlabel_y=551, ylabel_y=308, xtitle_x=345,
         points=[A_OTHER, A_PLASTID, A_PHANG, A_PHAPG, A_NE, A_PE],
         tops=[A_TOP_OTHER, A_TOP_PLASTID, A_TOP_PHANG, A_TOP_PHAPG, A_TOP_NE, A_TOP_PE],
         sides=[A_SIDE_OTHER, A_SIDE_PLASTID, A_SIDE_PHANG, A_SIDE_PHAPG, A_SIDE_NE, A_SIDE_PE]),
    dict(letter="B", xlabel="log2 BxM/MP", top=694, bottom=1062, peak=594, ymin=.01, ymax=6.07, yticks=B_Y_TICKS,
         letter_y=611, xlabel_y=1134, ylabel_y=877, xtitle_x=343,
         points=[B_OTHER, B_PLASTID, B_PHANG, B_PHAPG, B_NE, B_PE],
         tops=[B_TOP_OTHER, B_TOP_PLASTID, B_TOP_PHANG, B_TOP_PHAPG, B_TOP_NE, B_TOP_PE],
         sides=[B_SIDE_OTHER, B_SIDE_PLASTID, B_SIDE_PHANG, B_SIDE_PHAPG, B_SIDE_NE, B_SIDE_PE]),
    dict(letter="C", xlabel="log2 B73/Mo17", top=1283, bottom=1652, peak=1183, ymin=.02, ymax=8.29, yticks=C_Y_TICKS,
         letter_y=1192, xlabel_y=1731, ylabel_y=1458, xtitle_x=345,
         points=[C_OTHER, C_PLASTID, C_PHANG, C_PHAPG, C_NE, C_PE],
         tops=[C_TOP_OTHER, C_TOP_PLASTID, C_TOP_PHANG, C_TOP_PHAPG, C_TOP_NE, C_TOP_PE],
         sides=[C_SIDE_OTHER, C_SIDE_PLASTID, C_SIDE_PHANG, C_SIDE_PHAPG, C_SIDE_NE, C_SIDE_PE]),
]
COLORS = [GREY, BLACK, GREEN, TEAL, PINK, PURPLE]
LEFT, RIGHT, SIDE_END = 161, 529, 630
LEGEND_ROWS = [1843, 1908, 1972]
LEGEND_COLS = [(12, 59), (364, 410)]


def fx(px):
    return px / W


def fy(px):
    return 1 - px / H


def text(label, x, y, size=33, color="black", angle=0, anchor="center"):
    return dict(text=label, x=fx(x), y=fy(y), xref="paper", yref="paper", showarrow=False,
                font=dict(family=FONT, size=size, color=color), textangle=angle,
                xanchor=anchor, yanchor="middle")


def axis_key(letter, n):
    return f"{letter}axis" if n == 1 else f"{letter}axis{n}"


def axis_ref(letter, n):
    return letter if n == 1 else f"{letter}{n}"


def point_marker(i, color):
    if i == 0:
        return dict(size=14, symbol="circle-open", color=color, line=dict(width=2.3, color=color))
    return dict(size=17, color=color, line=dict(width=0))


fig = go.Figure()
layout = {}
notes = []
axis_no = 1

for p in PANELS:
    main, top, side = axis_no, axis_no + 1, axis_no + 2
    axis_no += 3
    xa, ya = axis_ref("x", main), axis_ref("y", main)

    layout[axis_key("x", main)] = dict(
        domain=[fx(LEFT), fx(RIGHT)], range=[-1, 1], anchor=ya, tickvals=X_TICKS, tickformat=".1f",
        showgrid=False, zeroline=False, showline=True, linecolor="#1a1a1a", linewidth=3,
        ticks="outside", ticklen=10, tickwidth=2.5, tickcolor="#333333", ticklabelstandoff=-3,
        tickfont=dict(family=FONT, size=33, color="#4D4D4D"))
    layout[axis_key("y", main)] = dict(
        domain=[fy(p["bottom"]), fy(p["top"])], range=[p["ymin"], p["ymax"]], anchor=xa, tickvals=p["yticks"],
        showgrid=False, zeroline=False, showline=True, linecolor="#1a1a1a", linewidth=3,
        ticks="outside", ticklen=10, tickwidth=2.5, tickcolor="#333333", ticklabelstandoff=1,
        tickfont=dict(family=FONT, size=33, color="#4D4D4D"))
    layout[axis_key("x", top)] = dict(domain=[fx(LEFT), fx(RIGHT)], range=[-1, 1], visible=False, anchor=f"y{top}")
    layout[axis_key("y", top)] = dict(domain=[fy(p["top"]), fy(p["peak"])], range=[0, 1], visible=False, anchor=f"x{top}")
    layout[axis_key("x", side)] = dict(domain=[fx(RIGHT), fx(SIDE_END)], range=[0, 1], visible=False, anchor=f"y{side}")
    layout[axis_key("y", side)] = dict(domain=[fy(p["bottom"]), fy(p["top"])], range=[p["ymin"], p["ymax"]],
                                       visible=False, anchor=f"x{side}")

    for i, (pts, color) in enumerate(zip(p["points"], COLORS)):
        fig.add_trace(go.Scatter(x=[a for a, _ in pts], y=[b for _, b in pts], mode="markers",
                                 marker=point_marker(i, color), xaxis=xa, yaxis=ya, showlegend=False))

    for x_line, y_line in (([-1, 1], [P_CUTOFF, P_CUTOFF]), ([0, 0], [p["ymin"], p["ymax"]])):
        fig.add_trace(go.Scatter(x=x_line, y=y_line, mode="lines", xaxis=xa, yaxis=ya, showlegend=False,
                                 line=dict(color="#666666", width=3.2, dash="16px,15px")))

    for curve, color in zip(p["tops"], COLORS):
        fig.add_trace(go.Scatter(x=[a for a, _ in curve], y=[b for _, b in curve], mode="lines", cliponaxis=False,
                                 line=dict(color=color, width=3, shape="spline", smoothing=.7),
                                 xaxis=f"x{top}", yaxis=f"y{top}", showlegend=False))
    for curve, color in zip(p["sides"], COLORS):
        fig.add_trace(go.Scatter(x=[b for _, b in curve], y=[a for a, _ in curve], mode="lines", cliponaxis=False,
                                 line=dict(color=color, width=3, shape="spline", smoothing=.7),
                                 xaxis=f"x{side}", yaxis=f"y{side}", showlegend=False))

    notes.append(text(p["letter"], 91, p["letter_y"], size=37))
    notes.append(text(p["xlabel"], p["xtitle_x"], p["xlabel_y"]))
    notes.append(text("−log10(p−value)", 93, p["ylabel_y"], angle=-90))

# legend, drawn on its own axes so the marks stay real points
leg = axis_no
layout[axis_key("x", leg)] = dict(domain=[0, 1], range=[0, W], visible=False, anchor=f"y{leg}")
layout[axis_key("y", leg)] = dict(domain=[0, 1], range=[H, 0], visible=False, anchor=f"x{leg}")
for i, (name, color) in enumerate(zip(NAMES, COLORS)):
    col_x, text_x = LEGEND_COLS[i // 3]
    row_y = LEGEND_ROWS[i % 3]
    fig.add_trace(go.Scatter(x=[col_x], y=[row_y], mode="markers", marker=point_marker(i, color),
                             xaxis=f"x{leg}", yaxis=f"y{leg}", showlegend=False))
    notes.append(text(name, text_x, row_y, anchor="left"))

fig.update_layout(width=W, height=H, margin=dict(l=0, r=0, t=0, b=0, autoexpand=False),
                  paper_bgcolor="white", plot_bgcolor="rgba(0,0,0,0)",
                  showlegend=False, font=dict(family=FONT), annotations=notes, **layout)

fig.write_html("out.html", post_script="document.body.style.margin='0';", config=dict(displayModeBar=False))
